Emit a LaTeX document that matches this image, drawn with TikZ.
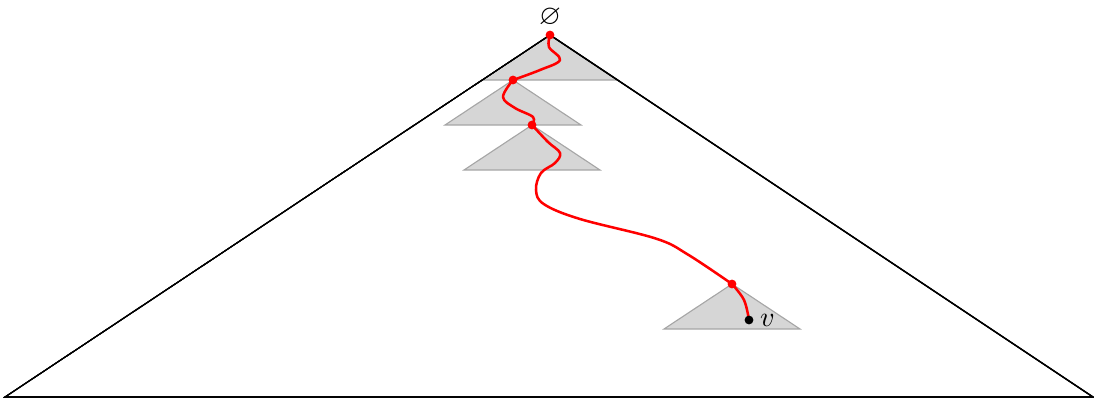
\documentclass[tikz,border=0pt]{standalone}
\usepackage{amssymb}
\usetikzlibrary{positioning}
\tikzset{
  tri/.style={draw=black!35, fill=black!16},
  big/.style={draw=black, line width=0.4pt},
  dot/.style={circle, fill=red, inner sep=0pt, minimum size=1.1mm},
  vdot/.style={circle, fill=black, inner sep=0pt, minimum size=1.1mm},
  walk/.style={draw=red, line width=0.9pt, line join=round},
}
\newcommand{\subtri}[1]{\path[tri] (#1) -- ++(-0.85,-0.5625) -- ++(1.7,0) -- cycle;}
\begin{document}
\begin{tikzpicture}
    \useasboundingbox (0,-0.05) rectangle (13.675,4.9625);
    % named points of the walk
    \coordinate (top) at (6.875,4.525);
    \coordinate (bl) at (0.0625,0);
    \coordinate (br) at (13.6625,0);
    \coordinate (c1) at (6.4125,3.9625);
    \coordinate (c2) at (6.65,3.4);
    \coordinate (c3) at (9.15,1.4125);
    \coordinate (cv) at (9.3625,0.9625);
    % grey subtrees
    \foreach \p in {top,c1,c2,c3} \subtri{\p}
    \draw[big] (bl) -- (top) -- (br) -- cycle;
    % the walk from the root to v
    \draw[walk] plot[smooth, tension=0.6] coordinates {(top) (6.8625,4.375) (7.0,4.2125) (6.75,4.0875) (c1)};
    \draw[walk] plot[smooth, tension=0.6] coordinates {(c1) (6.2875,3.75) (6.4375,3.6125) (6.6625,3.5) (c2)};
    \draw[walk] plot[smooth, tension=0.6] coordinates {(c2) (6.85,3.1875) (7.0,3.05) (6.9375,2.925) (6.7625,2.8) (6.7,2.5875) (6.8,2.41) (7.25,2.225) (8.2,1.98) (8.6,1.78) (c3)};
    \draw[walk] plot[smooth, tension=0.6] coordinates {(c3) (9.3,1.2125) (cv)};
    \node[dot] (n0) at (top) {};
    \node[dot] (n1) at (c1) {};
    \node[dot] (n2) at (c2) {};
    \node[dot] (n3) at (c3) {};
    \node[vdot] (v) at (cv) {};
    \node[above=0pt of n0, inner sep=1pt] (root) {$\varnothing$};
    \node[right=1pt of v, inner sep=1pt] (vl) {$v$};
\end{tikzpicture}
\end{document}
